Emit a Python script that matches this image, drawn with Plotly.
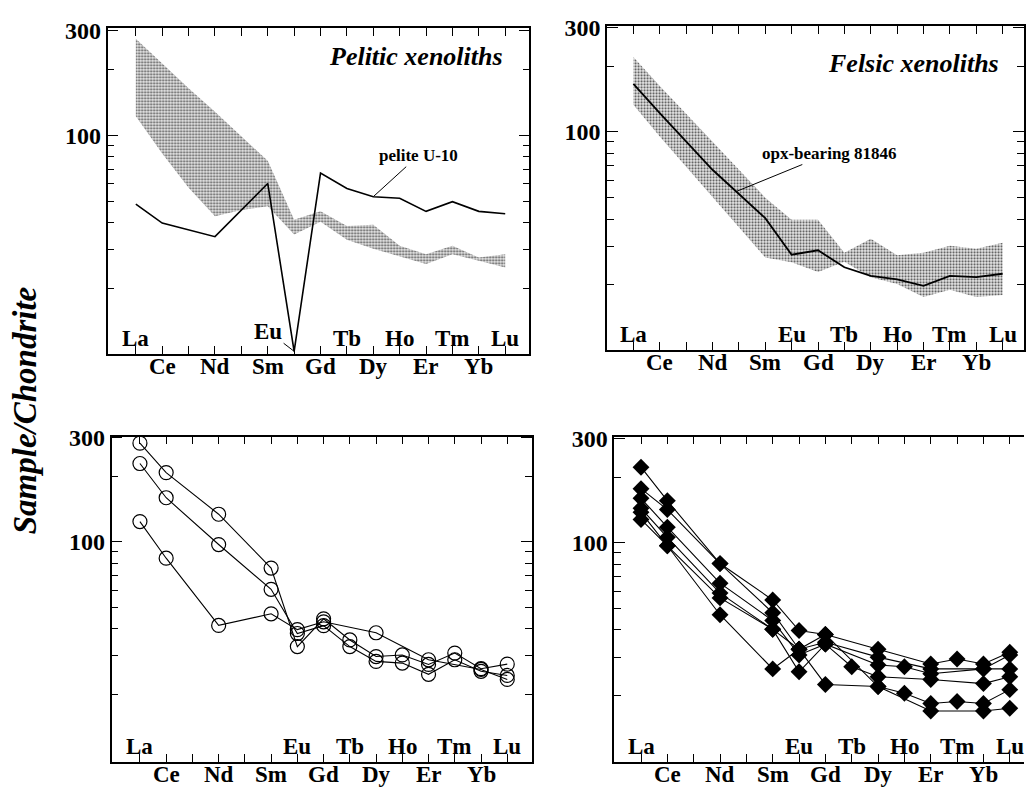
import numpy as np
import plotly.graph_objects as go

# ---------------- data ----------------
ELEMENTS = ["La", "Ce", "Pr", "Nd", "Pm", "Sm", "Eu", "Gd", "Tb", "Dy", "Ho", "Er", "Tm", "Yb", "Lu"]
REE = ["La", "Ce", "Nd", "Sm", "Eu", "Gd", "Tb", "Dy", "Ho", "Er", "Tm", "Yb", "Lu"]
TOP_ROW = ["La", "Eu", "Tb", "Ho", "Tm", "Lu"]
BOTTOM_ROW = ["Ce", "Nd", "Sm", "Gd", "Dy", "Er", "Yb"]
Y_TICKS = [100, 300]
Y_TICK_TEXT = ["100", "300"]
Y_MINOR = [20, 30, 40, 50, 60, 70, 80, 90, 200]

# Pelitic xenoliths: field (all 15 element positions) and pelite U-10
pelitic_upper = [276, 212, 164, 128, 99, 76.4, 41.1, 45.0, 38.5, 39.0, 31.3, 28.6, 31.3, 27.6, 28.6]
pelitic_lower = [122, 82.5, 57.5, 42.7, 45.5, 47.4, 35.2, 40.2, 33.3, 30.3, 27.9, 25.8, 28.6, 26.7, 24.9]
pelite_u10 = [48.5, 39.7, 34.4, 60.2, 10.3, 67.2, 57.1, 52.4, 51.5, 44.9, 49.7, 44.9, 43.8]

# Felsic xenoliths: field and opx-bearing 81846
felsic_upper = [220, 162, 121, 90.3, 67.4, 50.1, 39.7, 39.7, 28.1, 32.5, 27.3, 28.1, 30.2, 29.3, 31.2]
felsic_lower = [133, 95.3, 69.3, 50.4, 36.7, 26.7, 25.4, 22.9, 25.5, 21.7, 20.2, 17.6, 19.0, 17.6, 18.0]
opx_81846 = [165.7, 122, 67.2, 40.4, 27.5, 28.8, 24.1, 22.0, 21.2, 19.8, 22.0, 21.7, 22.5]

# Bottom-left (open circles)
circ_a = [284, 208, 134, 75.9, 33.1, 44.4, 35.5, 29.8, 30.3, 27.4, 30.9, 26.2, 27.5]
circ_b = [229, 159.5, 97.3, 60.6, 38.0, 41.3, 33.1, 28.3, 27.8, 24.7, 28.8, 25.5, 24.4]
circ_c = [124, 84.2, 41.4, 46.8, 39.6, 43.0, None, 38.3, None, 28.8, None, 26.0, 23.4]

# Bottom-right (filled diamonds)
dia_1 = [222, 156, 80.4, 54.8, 39.7, 38.1, None, 32.6, None, 27.9, 29.4, 27.9, 31.6]
dia_2 = [177, 142, 80.4, 47.9, 32.6, 35.1, None, 30.0, None, 26.5, None, 26.5, 30.7]
dia_3 = [160, 118, 65.4, 44.1, 30.7, 34.4, None, 27.6, 27.1, 25.2, None, 26.5, 26.5]
dia_4 = [144, 106, 58.9, 40.2, 25.7, 34.4, 27.1, 24.4, None, 23.7, None, 22.7, 24.4]
dia_5 = [138, 97, 56.0, 40.2, 32.6, 22.5, None, 22.0, 20.5, 18.4, 18.8, 18.4, 21.3]
dia_6 = [128, 97, 46.9, 26.5, 32.6, 38.1, None, 22.0, None, 17.0, None, 17.0, 17.5]

# ---------------- layout helpers ----------------
W, H = 1026, 787
SERIF = "Liberation Serif, Times New Roman, serif"
POS = {e: i for i, e in enumerate(ELEMENTS)}
REE_X = [POS[e] for e in REE]
ALL_X = list(range(len(ELEMENTS)))

PANELS = {
    "tl": dict(n="", frame=(107.7, 17, 530, 348), xr=(-1.07, 14.92), yr=(1.0, 2.491), mirror_y="ticks"),
    "tr": dict(n="2", frame=(607.7, 15, 1025, 344), xr=(-0.996, 14.81), yr=(1.003, 2.485), mirror_y="ticks"),
    "bl": dict(n="3", frame=(111.7, 431.7, 532.7, 761.7), xr=(-1.08, 14.95), yr=(0.99, 2.483), mirror_y="ticks"),
    "br": dict(n="4", frame=(615, 431.7, 1025, 761.7), xr=(-1.01, 14.54), yr=(0.997, 2.486), mirror_y=False),
}

fig = go.Figure()


def band(upper, lower, n):
    fig.add_trace(go.Scatter(
        x=ALL_X + ALL_X[::-1], y=upper + lower[::-1],
        xaxis="x" + n, yaxis="y" + n, mode="lines", fill="toself",
        line=dict(width=0, color="rgba(0,0,0,0)"),
        fillcolor="#c4c4c4",
        fillpattern=dict(shape=".", size=3, solidity=0.4, fgcolor="#4a4a4a",
                         bgcolor="#ececec", fillmode="replace"),
        hoverinfo="skip", showlegend=False))


def series(vals, n, mode="lines", marker=None, width=1.5):
    fig.add_trace(go.Scatter(
        x=REE_X, y=vals, xaxis="x" + n, yaxis="y" + n, mode=mode,
        connectgaps=True, line=dict(color="black", width=width),
        marker=marker, showlegend=False))


# top-left
band(pelitic_upper, pelitic_lower, "")
series(pelite_u10, "", width=1.6)
# top-right
band(felsic_upper, felsic_lower, "2")
series(opx_81846, "2", width=1.8)
# bottom-left
circle = dict(symbol="circle-open", size=14, color="black", line=dict(width=1.2, color="black"))
for s in (circ_a, circ_b, circ_c):
    series(s, "3", mode="lines+markers", marker=circle, width=1.1)
# bottom-right
diamond = dict(symbol="diamond", size=13, color="black", line=dict(width=0))
for s in (dia_1, dia_2, dia_3, dia_4, dia_5, dia_6):
    series(s, "4", mode="lines+markers", marker=diamond, width=1.1)

layout = dict(width=W, height=H, margin=dict(l=0, r=0, t=0, b=0),
              paper_bgcolor="white", plot_bgcolor="white", showlegend=False)
annotations = []
LABEL_FONT = dict(family=SERIF, size=23, color="black", weight="bold")

for key, p in PANELS.items():
    n = p["n"]
    l, t, r, b = p["frame"]
    layout["xaxis" + n] = dict(
        domain=[l / W, r / W], range=list(p["xr"]), anchor="y" + n,
        tickmode="array", tickvals=ALL_X, ticks="inside", ticklen=8, tickwidth=1.2,
        tickcolor="black", showticklabels=False, showline=True, linecolor="black",
        linewidth=1.6, mirror="ticks", showgrid=False, zeroline=False)
    layout["yaxis" + n] = dict(
        type="log", domain=[1 - b / H, 1 - t / H], range=list(p["yr"]), anchor="x" + n,
        tickmode="array", tickvals=Y_TICKS, ticktext=Y_TICK_TEXT, ticks="inside",
        ticklen=11, tickwidth=1.2, tickcolor="black",
        minor=dict(tickmode="array", tickvals=Y_MINOR, ticks="inside", ticklen=7,
                   tickwidth=1.2, tickcolor="black", showgrid=False),
        tickfont=dict(family=SERIF, size=24, color="black", weight="bold"),
        showline=True, linecolor="black", linewidth=1.6, mirror=p["mirror_y"],
        showgrid=False, zeroline=False)
    for e in TOP_ROW:
        if key == "tl" and e == "Eu":
            continue
        annotations.append(dict(
            xref="x" + n, yref="y" + n + " domain", x=POS[e], y=0, yshift=16,
            text=e, showarrow=False, font=LABEL_FONT,
            xanchor="center", yanchor="middle"))
    for e in BOTTOM_ROW:
        annotations.append(dict(
            xref="x" + n, yref="y" + n + " domain", x=POS[e], y=0, yshift=-12,
            text=e, showarrow=False, font=LABEL_FONT,
            xanchor="center", yanchor="middle"))

# Eu label with leader in top-left panel
eu_i = REE.index("Eu")
annotations.append(dict(
    xref="x", yref="y", x=REE_X[eu_i], y=np.log10(pelite_u10[eu_i]),
    text="Eu", showarrow=True, arrowhead=0, arrowwidth=1, arrowcolor="black",
    ax=-26, ay=-20, font=LABEL_FONT))

# pelite U-10 label
dy_i = REE.index("Dy")
annotations.append(dict(
    xref="x", yref="y", x=REE_X[dy_i], y=np.log10(pelite_u10[dy_i]),
    text="pelite U-10", showarrow=True, arrowhead=0, arrowwidth=1,
    arrowcolor="black", ax=45, ay=-41,
    font=dict(family=SERIF, size=17, color="black", weight="bold")))

# opx-bearing 81846 label (pointing to the line between Nd and Sm)
xp = 3.9
yp = np.interp(xp, REE_X, np.log10(opx_81846))
annotations.append(dict(
    xref="x2", yref="y2", x=xp, y=yp,
    text="opx-bearing 81846", showarrow=True, arrowhead=0, arrowwidth=1,
    arrowcolor="black", ax=93, ay=-38,
    font=dict(family=SERIF, size=17, color="black", weight="bold")))

# panel titles
annotations.append(dict(
    xref="x domain", yref="y domain", x=0.941, y=0.912, xanchor="right", yanchor="middle",
    text="<i>Pelitic xenoliths</i>", showarrow=False,
    font=dict(family=SERIF, size=26, color="black", weight="bold")))
annotations.append(dict(
    xref="x2 domain", yref="y2 domain", x=0.945, y=0.885, xanchor="right", yanchor="middle",
    text="<i>Felsic xenoliths</i>", showarrow=False,
    font=dict(family=SERIF, size=26, color="black", weight="bold")))

# shared y title
annotations.append(dict(
    xref="paper", yref="paper", x=25 / W, y=1 - 405 / H, xanchor="center", yanchor="middle",
    text="<i>Sample/Chondrite</i>", textangle=-90, showarrow=False,
    font=dict(family=SERIF, size=33, color="black", weight="bold")))

layout["annotations"] = annotations
fig.update_layout(**layout)
PIN_JS = (
    "document.documentElement.style.margin='0';"
    "document.body.style.margin='0';document.body.style.padding='0';"
    "document.documentElement.style.overflow='hidden';document.body.style.overflow='hidden';"
    "var d=document.getElementById('{plot_id}');"
    "d.style.position='fixed';d.style.top='0px';d.style.left='0px';"
)
fig.write_html("out.html", config={"displayModeBar": False}, post_script=PIN_JS)
